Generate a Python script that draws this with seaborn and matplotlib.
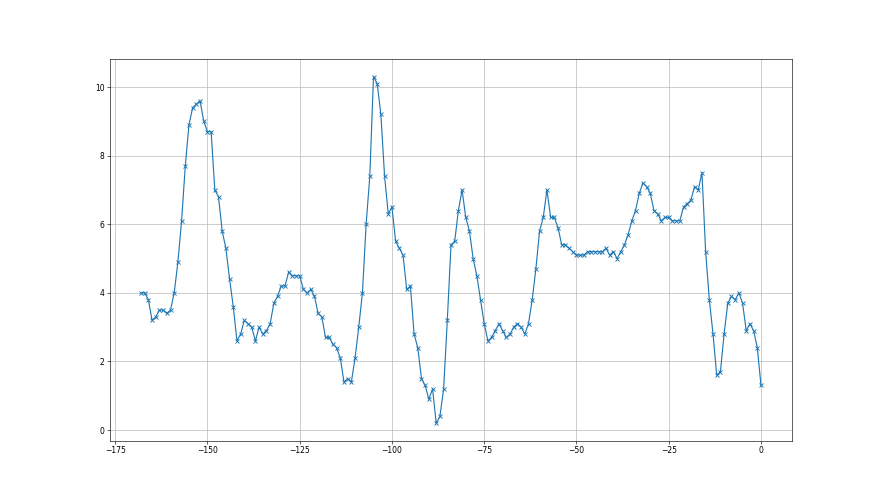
import numpy as np
import pandas as pd
import seaborn as sns
import matplotlib
matplotlib.use("Agg")
import matplotlib.pyplot as plt

# values, one per step from -168 to 0
values = [
    4.0, 4.0, 3.8, 3.2, 3.3, 3.5, 3.5, 3.4, 3.5, 4.0,
    4.9, 6.1, 7.7, 8.9, 9.4, 9.5, 9.6, 9.0, 8.7, 8.7,
    7.0, 6.8, 5.8, 5.3, 4.4, 3.6, 2.6, 2.8, 3.2, 3.1,
    3.0, 2.6, 3.0, 2.8, 2.9, 3.1, 3.7, 3.9, 4.2, 4.2,
    4.6, 4.5, 4.5, 4.5, 4.1, 4.0, 4.1, 3.9, 3.4, 3.3,
    2.7, 2.7, 2.5, 2.4, 2.1, 1.4, 1.5, 1.4, 2.1, 3.0,
    4.0, 6.0, 7.4, 10.3, 10.1, 9.2, 7.4, 6.3, 6.5, 5.5,
    5.3, 5.1, 4.1, 4.2, 2.8, 2.4, 1.5, 1.3, 0.9, 1.2,
    0.2, 0.4, 1.2, 3.2, 5.4, 5.5, 6.4, 7.0, 6.2, 5.8,
    5.0, 4.5, 3.8, 3.1, 2.6, 2.7, 2.9, 3.1, 2.9, 2.7,
    2.8, 3.0, 3.1, 3.0, 2.8, 3.1, 3.8, 4.7, 5.8, 6.2,
    7.0, 6.2, 6.2, 5.9, 5.4, 5.4, 5.3, 5.2, 5.1, 5.1,
    5.1, 5.2, 5.2, 5.2, 5.2, 5.2, 5.3, 5.1, 5.2, 5.0,
    5.2, 5.4, 5.7, 6.1, 6.4, 6.9, 7.2, 7.1, 6.9, 6.4,
    6.3, 6.1, 6.2, 6.2, 6.1, 6.1, 6.1, 6.5, 6.6, 6.7,
    7.1, 7.0, 7.5, 5.2, 3.8, 2.8, 1.6, 1.7, 2.8, 3.7,
    3.9, 3.8, 4.0, 3.7, 2.9, 3.1, 2.9, 2.4, 1.3,
]
steps = list(range(-(len(values) - 1), 1))

df = pd.DataFrame({"step": steps, "value": values})

fig, ax = plt.subplots(figsize=(16, 9), dpi=55)
sns.lineplot(data=df, x="step", y="value", marker="x", color="#1f77b4",
             markeredgecolor="#1f77b4", markeredgewidth=1.2, markersize=6,
             linewidth=1.5, ax=ax)
ax.grid(True)
ax.set_xlabel("")
ax.set_ylabel("")

plt.savefig("out.png")
